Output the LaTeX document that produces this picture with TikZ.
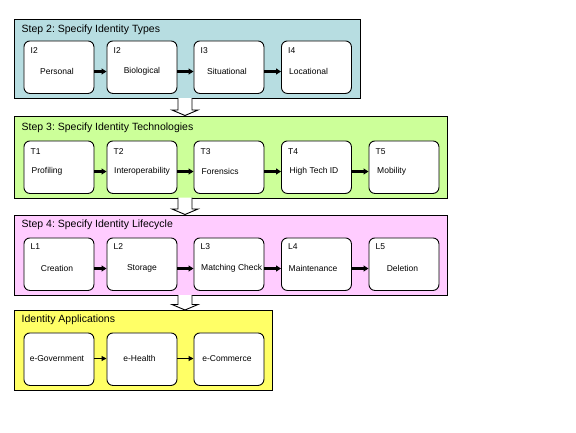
\documentclass[tikz,border=0pt]{standalone}
\usepackage{fontspec}
\setmainfont{Liberation Sans}
\usetikzlibrary{arrows.meta,calc}
\definecolor{pblue}{RGB}{183,221,225}
\definecolor{pgreen}{RGB}{204,255,153}
\definecolor{ppink}{RGB}{255,204,255}
\definecolor{pyellow}{RGB}{255,255,102}
\tikzset{
  panel/.style={draw=black, line width=0.9pt, anchor=north west, inner sep=0pt},
  box/.style={draw=black, fill=white, rounded corners=6pt, line width=0.9pt,
    minimum width=70pt, minimum height=52.5pt, anchor=north west, inner sep=0pt},
  title/.style={anchor=west, inner sep=0pt, font=\fontsize{10.5}{12}\selectfont},
  lab/.style={inner sep=0pt, font=\fontsize{8.5}{10}\selectfont},
  link/.style={line width=2.3pt, -{Triangle[length=5pt,width=6pt]}},
  thinlink/.style={line width=1.1pt, -{Triangle[length=5pt,width=5pt]}},
  blockarrow/.style={draw=black, fill=white, line width=0.9pt},
}
\newcommand{\downblock}[2]{%
  \draw[blockarrow] (178,#1) -- (178,{#2-5.5}) -- (172,{#2-5.5}) -- (185,#2)
    -- (198,{#2-5.5}) -- (192,{#2-5.5}) -- (192,#1);}
\begin{document}
\begin{tikzpicture}[x=1pt,y=-1pt]
\useasboundingbox (0,0) rectangle (576,432);
\fill[white] (0,0) rectangle (576,432);

% panels
\node[panel, fill=pblue, minimum width=345.5pt, minimum height=79pt] (p1) at (14,19) {};
\node[panel, fill=pgreen, minimum width=433pt, minimum height=82pt] (p2) at (14,115.5) {};
\node[panel, fill=ppink, minimum width=433pt, minimum height=80.5pt] (p3) at (14,214.5) {};
\node[panel, fill=pyellow, minimum width=258pt, minimum height=80pt] (p4) at (14,310) {};

% block arrows between panels
\downblock{98}{115.5}
\downblock{197.5}{214.5}
\downblock{295}{310}

% titles
\node[title] (t1) at (21.5,29.5) {Step 2:\ Specify Identity Types};
\node[title] (t2) at (21.5,128) {Step 3:\ Specify Identity Technologies};
\node[title] (t3) at (21.5,224.5) {Step 4:\ Specify Identity Lifecycle};
\node[title] (t4) at (21.5,320) {Identity Applications};

% row 1: identity types
\node[box] (i1) at (23.5,40.5) {};
\node[box] (i2) at (106.5,40.5) {};
\node[box] (i3) at (193.5,40.5) {};
\node[box] (i4) at (281,40.5) {};
\node[lab, anchor=west] (i1id) at ($(i1.north west)+(7,10)$) {I2};
\node[lab, anchor=west] (i2id) at ($(i2.north west)+(7,10)$) {I2};
\node[lab, anchor=west] (i3id) at ($(i3.north west)+(7,10)$) {I3};
\node[lab, anchor=west] (i4id) at ($(i4.north west)+(7,10)$) {I4};
\node[lab] (i1n) at ($(i1.north)+(-2,31)$) {Personal};
\node[lab] (i2n) at ($(i2.north)+(0,31)$) {Biological};
\node[lab] (i3n) at ($(i3.north)+(-2,31)$) {Situational};
\node[lab, anchor=west] (i4n) at ($(i4.north west)+(8,31)$) {Locational};
\draw[link] ($(i1.north east)+(0,31)$) -- ($(i2.north west)+(0,31)$);
\draw[link] ($(i2.north east)+(0,31)$) -- ($(i3.north west)+(0,31)$);
\draw[link] ($(i3.north east)+(0,31)$) -- ($(i4.north west)+(0,31)$);

% row 2: technologies
\node[box] (tb1) at (23.5,140.5) {};
\node[box] (tb2) at (106.5,140.5) {};
\node[box] (tb3) at (193.5,140.5) {};
\node[box] (tb4) at (281,140.5) {};
\node[box] (tb5) at (368.5,140.5) {};
\node[lab, anchor=west] (tb1id) at ($(tb1.north west)+(7,11)$) {T1};
\node[lab, anchor=west] (tb2id) at ($(tb2.north west)+(7,11)$) {T2};
\node[lab, anchor=west] (tb3id) at ($(tb3.north west)+(7,11)$) {T3};
\node[lab, anchor=west] (tb4id) at ($(tb4.north west)+(7,11)$) {T4};
\node[lab, anchor=west] (tb5id) at ($(tb5.north west)+(7,11)$) {T5};
\node[lab, anchor=west] (tb1n) at ($(tb1.north west)+(8,31)$) {Profiling};
\node[lab, anchor=west] (tb2n) at ($(tb2.north west)+(7.5,31)$) {Interoperability};
\node[lab, anchor=west] (tb3n) at ($(tb3.north west)+(8,31)$) {Forensics};
\node[lab, anchor=west] (tb4n) at ($(tb4.north west)+(8.5,31)$) {High Tech ID};
\node[lab, anchor=west] (tb5n) at ($(tb5.north west)+(8.5,31)$) {Mobility};
\draw[link] ($(tb1.north east)+(0,31)$) -- ($(tb2.north west)+(0,31)$);
\draw[link] ($(tb2.north east)+(0,31)$) -- ($(tb3.north west)+(0,31)$);
\draw[link] ($(tb3.north east)+(0,31)$) -- ($(tb4.north west)+(0,31)$);
\draw[link] ($(tb4.north east)+(0,31)$) -- ($(tb5.north west)+(0,31)$);

% row 3: lifecycle
\node[box] (l1) at (23.5,237.5) {};
\node[box] (l2) at (106.5,237.5) {};
\node[box] (l3) at (193.5,237.5) {};
\node[box] (l4) at (281,237.5) {};
\node[box] (l5) at (368.5,237.5) {};
\node[lab, anchor=west] (l1id) at ($(l1.north west)+(7,9.5)$) {L1};
\node[lab, anchor=west] (l2id) at ($(l2.north west)+(7,9.5)$) {L2};
\node[lab, anchor=west] (l3id) at ($(l3.north west)+(7,9.5)$) {L3};
\node[lab, anchor=west] (l4id) at ($(l4.north west)+(7,9.5)$) {L4};
\node[lab, anchor=west] (l5id) at ($(l5.north west)+(7,9.5)$) {L5};
\node[lab] (l1n) at ($(l1.north)+(-2,31)$) {Creation};
\node[lab] (l2n) at ($(l2.north)+(0,31)$) {Storage};
\node[lab, anchor=west] (l3n) at ($(l3.north west)+(7.5,31)$) {Matching Check};
\node[lab, anchor=west] (l4n) at ($(l4.north west)+(7.5,31)$) {Maintenance};
\node[lab] (l5n) at ($(l5.north)+(-1.5,31)$) {Deletion};
\draw[link] ($(l1.north east)+(0,31)$) -- ($(l2.north west)+(0,31)$);
\draw[link] ($(l2.north east)+(0,31)$) -- ($(l3.north west)+(0,31)$);
\draw[link] ($(l3.north east)+(0,31)$) -- ($(l4.north west)+(0,31)$);
\draw[link] ($(l4.north east)+(0,31)$) -- ($(l5.north west)+(0,31)$);

% row 4: applications
\node[box] (a1) at (23.5,332.5) {};
\node[box] (a2) at (106.5,332.5) {};
\node[box] (a3) at (193.5,332.5) {};
\node[lab] (a1n) at ($(a1.north)+(-2,26)$) {e-Government};
\node[lab] (a2n) at ($(a2.north)+(-2.5,26)$) {e-Health};
\node[lab] (a3n) at ($(a3.north)+(-2,26)$) {e-Commerce};
\draw[thinlink] ($(a1.north east)+(0,26)$) -- ($(a2.north west)+(0,26)$);
\draw[thinlink] ($(a2.north east)+(0,26)$) -- ($(a3.north west)+(0,26)$);
\end{tikzpicture}
\end{document}
